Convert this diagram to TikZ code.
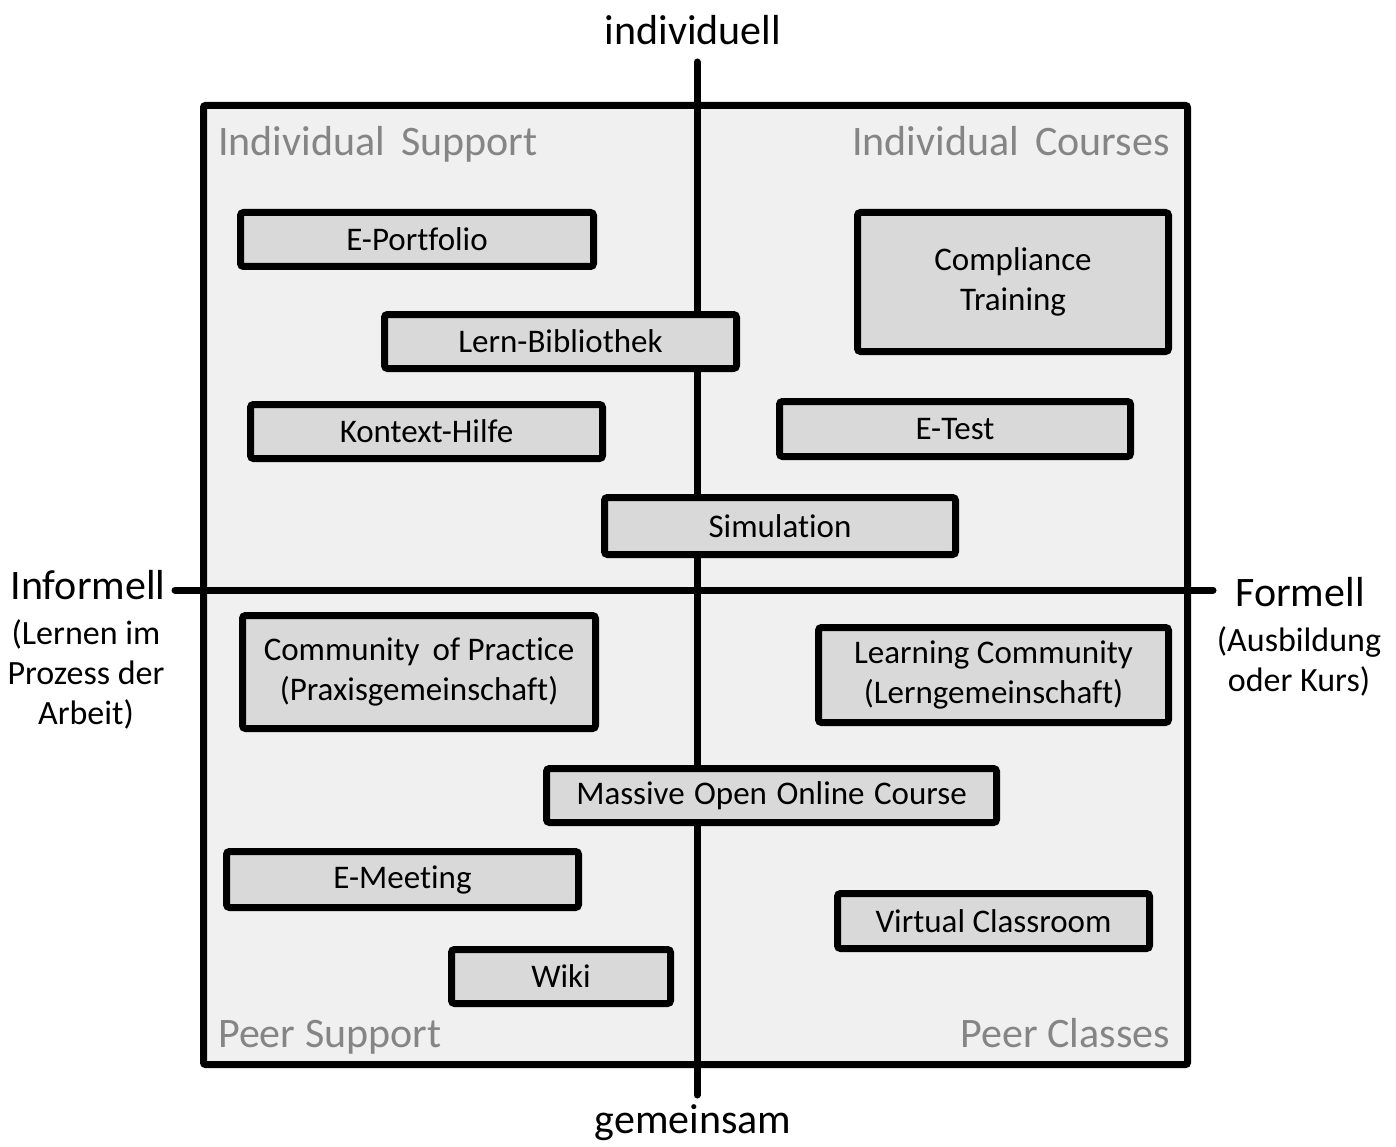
\documentclass[tikz,border=0pt]{standalone}
\usepackage{fontspec}
\setmainfont[Ligatures=NoCommon]{Carlito}
\begin{document}
\begin{tikzpicture}[x=1pt,y=-1pt,
  item/.style={draw=black, line width=7pt, fill=boxgray, rounded corners=3pt, inner sep=0pt, align=center, font=\fontsize{33}{40}\selectfont},
  quad/.style={text=quadgray, font=\fontsize{42}{46}\selectfont, inner sep=0pt},
  axlab/.style={font=\fontsize{42}{46}\selectfont, inner sep=0pt},
  sidelab/.style={font=\fontsize{34}{40}\selectfont, inner sep=0pt, align=center},
  axis/.style={line width=7pt, line cap=round}]
\definecolor{boxgray}{HTML}{D9D9D9}
\definecolor{panelgray}{HTML}{F0F0F0}
\definecolor{quadgray}{HTML}{858585}
\useasboundingbox (0,0) rectangle (1396,1147);
% panel
\draw[line width=7pt, fill=panelgray, rounded corners=2pt] (203.5,105.5) rectangle (1187.5,1064.5);
% axes
\coordinate (vtop) at (697,62);
\coordinate (vbot) at (697,1095);
\coordinate (hleft) at (175,590);
\coordinate (hright) at (1213,590);
\draw[axis] (vtop) -- (vbot);
\draw[axis] (hleft) -- (hright);
% axis labels
\node[axlab] (ind) at (693,30) {individuell};
\node[axlab] (gem) at (693,1123) {gemeinsam};
\node[axlab] (inf) at (88,585) {Informell};
\node[sidelab] (infs) at (86,674) {(Lernen im\\Prozess der\\Arbeit)};
\node[axlab] (form) at (1300,592) {Formell};
\node[sidelab] (forms) at (1299,661) {(Ausbildung\\oder Kurs)};
% quadrant labels
\node[quad, anchor=base west] (q1) at (218,156) {Individual\, Support};
\node[quad, anchor=base east] (q2) at (1170,156) {Individual\, Courses};
\node[quad, anchor=base west] (q3) at (218,1047) {Peer Support};
\node[quad, anchor=base east] (q4) at (1170,1047) {Peer Classes};
% boxes
\node[item, minimum width=353pt, minimum height=54pt] (ep) at (417,239.5) {E-Portfolio};
\node[item, minimum width=352pt, minimum height=54pt] (lb) at (560.5,341.5) {Lern-Bibliothek};
\node[item, minimum width=352pt, minimum height=54pt] (kh) at (426.5,431.5) {Kontext-Hilfe};
\node[item, minimum width=311pt, minimum height=139pt] (ct) at (1013,282) {Compliance\\Training};
\node[item, minimum width=351pt, minimum height=55pt] (et) at (955,429) {E-Test};
\node[item, minimum width=351pt, minimum height=57pt] (sim) at (780,526) {Simulation};
\node[item, minimum width=353pt, minimum height=113pt] (cop) at (419,672) {Community\, of Practice\\(Praxisgemeinschaft)};
\node[item, minimum width=350pt, minimum height=95pt] (lc) at (993.5,675) {Learning Community\\(Lerngemeinschaft)};
\node[item, minimum width=450pt, minimum height=54pt] (mooc) at (771.5,795.5) {Massive\kern2pt{} Open\kern2pt{} Online\kern2pt{} Course};
\node[item, minimum width=352pt, minimum height=56pt] (em) at (402.5,879.5) {E-Meeting};
\node[item, minimum width=219pt, minimum height=54pt] (wiki) at (561,976.5) {Wiki};
\node[item, minimum width=312pt, minimum height=55pt] (vc) at (993.5,921) {Virtual Classroom};
\end{tikzpicture}
\end{document}
